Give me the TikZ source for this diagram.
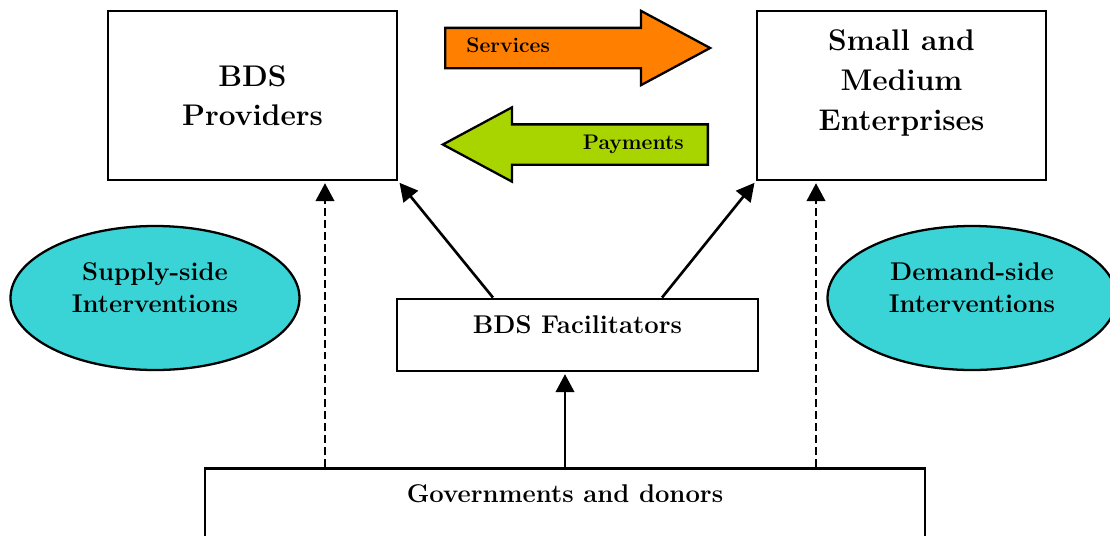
\documentclass[tikz,border=0pt]{standalone}
\usetikzlibrary{shapes.geometric,shapes.arrows,arrows.meta}

\definecolor{oransje}{RGB}{255,128,0}
\definecolor{limegronn}{RGB}{168,212,0}
\definecolor{turkis}{RGB}{58,212,214}

\begin{document}
\begin{tikzpicture}

% Styles til elementer
\tikzstyle{boks} 	=	[rectangle, draw, line width=1.6pt, align=center, minimum width=5.78cm, minimum height=3.38cm, font=\bfseries\fontsize{17}{22.5}\selectfont]
\tikzstyle{liten_boks} 	=	[rectangle, draw, line width=1.6pt, font=\bfseries\fontsize{14.6}{18}\selectfont]
\tikzstyle{tiltak} 	=	[ellipse, draw, line width=1.3pt, fill=turkis, align=center, minimum width=5.78cm, minimum height=2.88cm, inner sep=0pt, text height=1cm, text depth=0.44cm, font=\bfseries\fontsize{14.6}{18.2}\selectfont]
\tikzstyle{blokkpil} 	=	[single arrow, draw, line width=1.3pt, minimum height=5.3cm, text height=0.38cm, text depth=0.38cm, inner sep=0pt, single arrow head extend=0.34cm, single arrow tip angle=56.5, single arrow head indent=0pt, anchor=tail]
\tikzstyle{piltekst} 	=	[inner sep=0pt, font=\bfseries\fontsize{12}{14}\selectfont]
\tikzstyle{pil} 	=	[line width=1.5pt, -{Triangle[length=0.36cm, width=0.37cm]}, shorten >=1pt]
\tikzstyle{stiplet} 	=	[pil, dash pattern=on 4.5pt off 2.3pt]

	\path[use as bounding box, clip] (-5.05,1.91) rectangle (17.15,-8.79);

	% Tilbydere og bedrifter
	\node[boks]	(bds_providers)	{BDS\\Providers};
	\node[boks, text height=2.1cm, text depth=0.72cm]	(sme)	[right of=bds_providers, node distance=12.98cm]	{Small and\\Medium\\Enterprises};

	% Tjenester og betaling
	\node[blokkpil, fill=oransje] (services) at (3.83,0.95) {}; % Pil mot hoyre
	\node[piltekst, anchor=west] (services_tekst) at ([xshift=0.44cm, yshift=0.06cm]services.tail) {Services};
	\node[blokkpil, fill=limegronn, shape border rotate=180] (payments) at (9.13,-0.98) {}; % Pil mot venstre
	\node[piltekst, anchor=east] (payments_tekst) at ([xshift=-0.5cm]payments.tail) {Payments};

	% Tiltak
	\node[tiltak] (supply_side) [below of=bds_providers, node distance=4.05cm, xshift=-1.95cm] {Supply-side\\Interventions};
	\node[tiltak] (demand_side) [below of=sme, node distance=4.05cm, xshift=1.41cm] {Demand-side\\Interventions};

	% Tilretteleggere og givere
	\node[liten_boks, minimum width=7.22cm, minimum height=1.44cm, text height=0.36cm, text depth=0.44cm] (bds_facilitators) [below of=bds_providers, node distance=4.79cm, xshift=6.5cm] {BDS Facilitators};
	\node[liten_boks, minimum width=14.4cm, inner ysep=0pt, text height=0.68cm, text depth=1.3cm, anchor=north] (governments) at (6.25,-7.43) {Governments and donors};

	% Piler
	\coordinate (supply_linje) at ([xshift=1.45cm]bds_providers.south);
	\coordinate (demand_linje) at ([xshift=-1.71cm]sme.south);
	\draw[stiplet] (supply_linje |- governments.north) -- (supply_linje); % Stiplet pil opp
	\draw[stiplet] (demand_linje |- governments.north) -- (demand_linje); % Stiplet pil opp
	\draw[pil] ([xshift=-1.69cm]bds_facilitators.north) -- (bds_providers.south east);
	\draw[pil] ([xshift=1.69cm]bds_facilitators.north) -- (sme.south west);
	\draw[pil] (governments.north) -- (governments.north |- bds_facilitators.south); % Pil opp

\end{tikzpicture}
\end{document}
